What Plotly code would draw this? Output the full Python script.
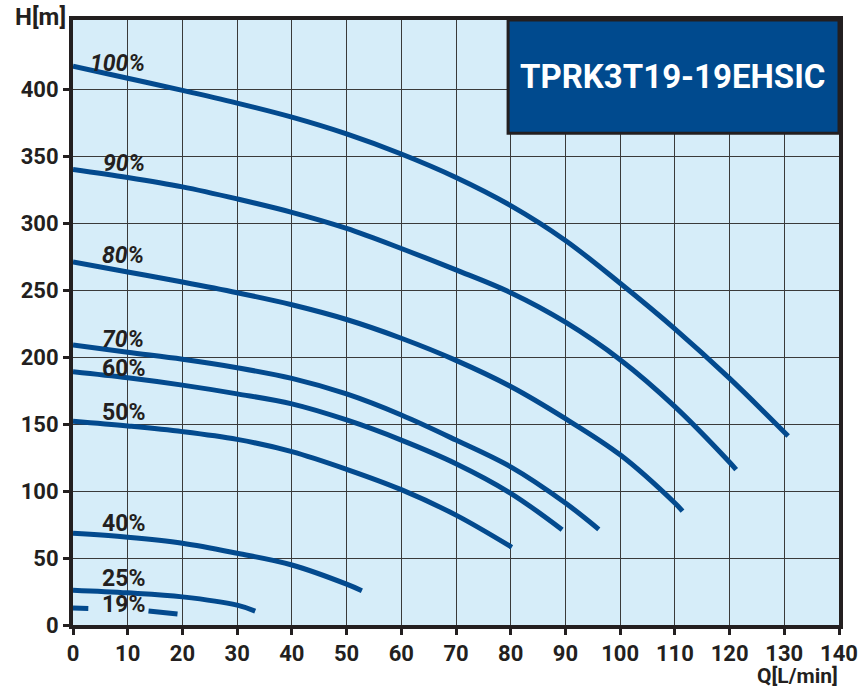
import plotly.graph_objects as go

# ---- data ----
curve_names = ["100%", "90%", "80%", "70%", "60%", "50%", "40%", "25%", "19%"]

q_100 = [0, 10, 20, 30, 40, 50, 60, 70, 80, 90, 100, 110, 120, 130.7]
h_100 = [417, 408, 399, 389.5, 379, 366.5, 351.5, 334, 313, 287, 255, 221, 184, 141]

q_90 = [0, 10, 20, 30, 40, 50, 60, 70, 80, 90, 100, 110, 120, 121.2]
h_90 = [340, 334, 327, 318, 308, 296, 281, 265, 248, 226, 198, 163, 121.5, 116]

q_80 = [0, 10, 20, 30, 40, 50, 60, 70, 80, 90, 100, 110, 111.4]
h_80 = [271, 263.5, 256, 248, 239, 228, 214, 197.5, 178, 154, 127, 91, 85]

q_70 = [0, 10, 20, 30, 40, 50, 60, 70, 80, 90, 96.1]
h_70 = [209, 203.5, 198.3, 192, 184, 172.4, 156.7, 138, 118, 91, 71.4]

q_60 = [0, 10, 20, 30, 40, 50, 60, 70, 80, 89.4]
h_60 = [189, 184.5, 179, 172.5, 165, 153, 138, 120.4, 98.3, 71.1]

q_50 = [0, 10, 20, 30, 40, 50, 60, 70, 80.2]
h_50 = [152, 148.5, 144.3, 138.5, 129.4, 116.2, 101, 82, 58]

q_40 = [0, 10, 20, 30, 40, 50, 52.8]
h_40 = [68.4, 65.5, 61, 53.5, 44.8, 30.5, 25.6]

q_25 = [0, 10, 20, 30, 33.3]
h_25 = [26, 24, 21, 14.8, 10.4]

# the 19% curve is interrupted where its label sits (None = gap)
q_19 = [0, 2.8, None, 13.8, 19.1]
h_19 = [12.7, 12.4, None, 10.5, 8.2]

label_q = [8.2, 9.4, 9.2, 9.2, 9.2, 9.2, 9.2, 9.2, 9.2]
label_h = [419, 344.4, 275.4, 213.4, 191.4, 158.6, 75.4, 34.7, 15]
label_italic = [True, True, True, True, False, False, False, False, False]

x_ticks = list(range(0, 141, 10))
y_ticks = list(range(0, 401, 50))

model_name = "TPRK3T19-19EHSIC"

# ---- styling ----
LINE = "#034a8e"
BG = "#d6edf9"
TXT = "#231f20"
FONT = "Roboto"

series = [(q_100, h_100), (q_90, h_90), (q_80, h_80), (q_70, h_70), (q_60, h_60),
          (q_50, h_50), (q_40, h_40), (q_25, h_25), (q_19, h_19)]

fig = go.Figure()
for name, (q, h) in zip(curve_names, series):
    fig.add_trace(go.Scatter(x=q, y=h, mode="lines", name=name, connectgaps=False,
                             line=dict(color=LINE, width=5, shape="spline", smoothing=1.0),
                             showlegend=False, hoverinfo="skip"))

for name, q, h, it in zip(curve_names, label_q, label_h, label_italic):
    fig.add_annotation(x=q, y=h, text=name, showarrow=False, xref="x", yref="y",
                       xanchor="center", yanchor="middle",
                       font=dict(family=FONT, size=23, color=TXT, weight="bold",
                                 style="italic" if it else "normal"))

# title box
fig.add_shape(type="rect", xref="paper", yref="paper", x0=0.568, x1=1.0, y0=0.813, y1=1.0,
              fillcolor="#004a8e", line=dict(color=TXT, width=3), layer="above")
fig.add_annotation(xref="paper", yref="paper", x=0.783, y=0.906, xanchor="center", yanchor="middle",
                   text=model_name, showarrow=False,
                   font=dict(family=FONT, size=33, color="white", weight="bold"))

# axis titles
fig.add_annotation(xref="paper", yref="paper", x=-0.043, y=1.031, xanchor="center", yanchor="top",
                   text="H[m]", showarrow=False,
                   font=dict(family=FONT, size=24, color=TXT, weight="bold"))
fig.add_annotation(xref="paper", yref="paper", x=1.001, y=-0.085, xanchor="right", yanchor="middle",
                   text="Q[L/min]", showarrow=False,
                   font=dict(family=FONT, size=21, color=TXT, weight="bold"))

axis_common = dict(showline=True, linecolor=TXT, linewidth=4, mirror=True,
                   showgrid=True, gridcolor="#3a3a3a", gridwidth=1,
                   ticks="outside", ticklen=6, tickwidth=3, tickcolor=TXT,
                   zeroline=False,
                   tickfont=dict(family=FONT, size=22, color=TXT, weight="bold"))

fig.update_xaxes(range=[0, 140], tickvals=x_ticks, **axis_common)
fig.update_yaxes(range=[0, 451.5], tickvals=y_ticks, **axis_common)

fig.update_layout(width=859, height=692, plot_bgcolor=BG, paper_bgcolor="white",
                  margin=dict(l=73, r=20, t=20, b=67, autoexpand=False))

fig.write_html("out.html", config={"displayModeBar": False},
               post_script="document.body.style.margin='0';document.body.style.overflow='hidden';")
